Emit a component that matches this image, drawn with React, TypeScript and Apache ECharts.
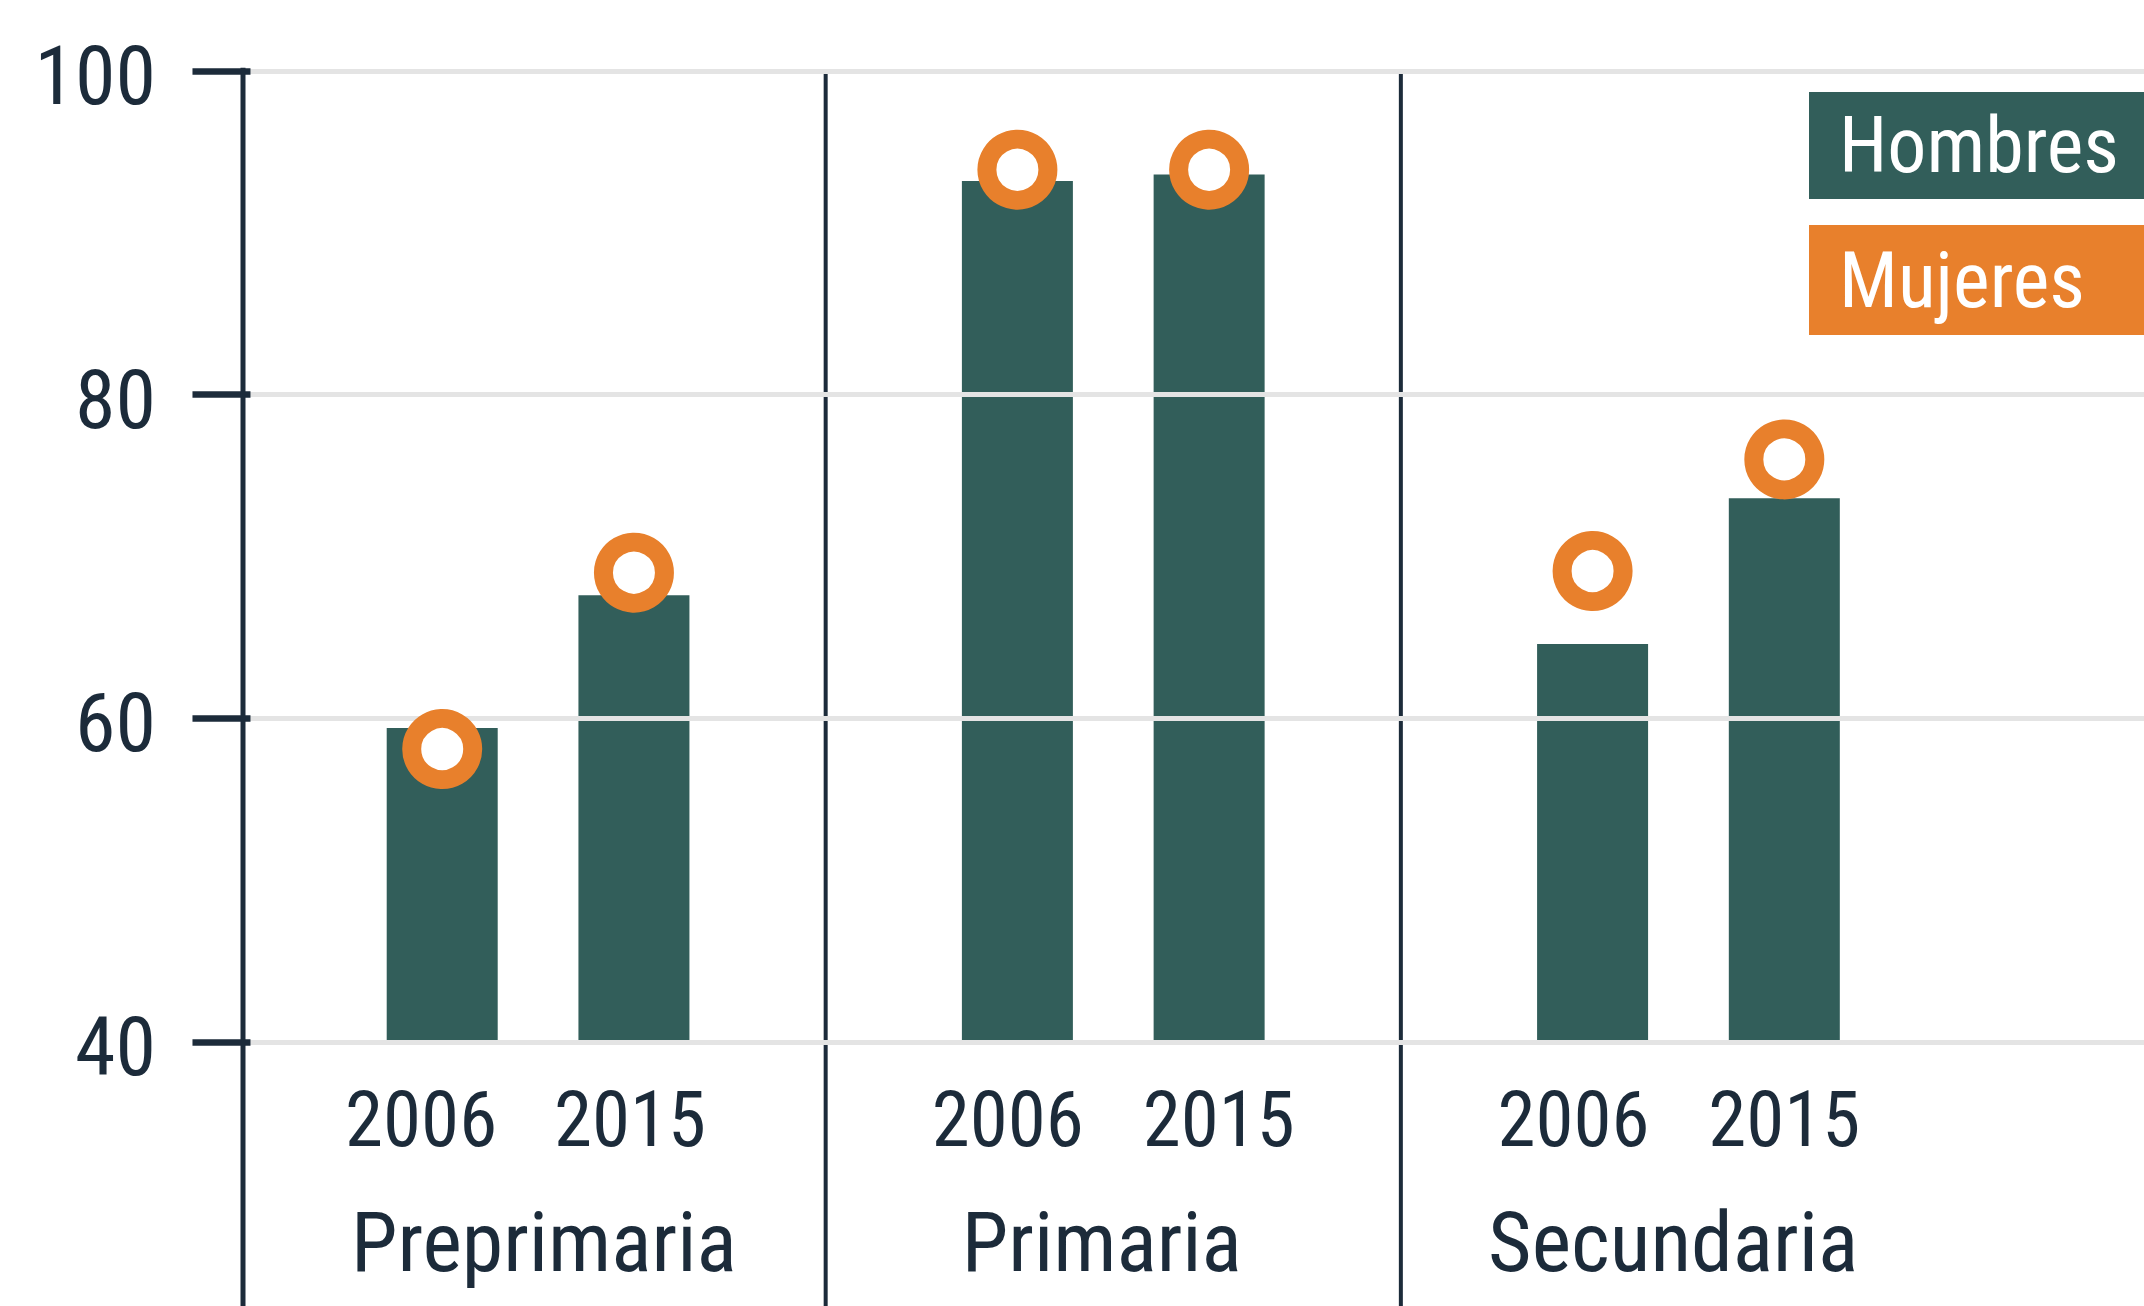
import React, { useEffect, useRef } from 'react';
import * as echarts from 'echarts';

const groups = ['Preprimaria', 'Primaria', 'Secundaria'];
const years = ['2006', '2015'];
const hombres = [59.4, 67.6, 93.2, 93.6, 64.6, 73.6];
const mujeres = [58.1, 69.0, 93.9, 93.9, 69.1, 76.0];
const seriesNames = ['Hombres', 'Mujeres'];

const TEAL = '#325e5a';
const ORANGE = '#e8802c';
const DARK = '#1c2b3a';
const GRID = '#e4e4e4';
const FONT = "'Roboto Condensed', 'Liberation Sans Narrow', 'Arial Narrow', 'DejaVu Sans Condensed', Roboto, sans-serif";

const X_MIN = -0.039;
const X_MAX = 9.876;
// small label nudges (in slot units) to follow the reference's label placement
const YEAR_LABEL_NUDGE = [-0.11, -0.02, -0.05, 0.05, -0.1, 0.0];
const GROUP_LABEL_NUDGE = [0.03, -0.06, -0.08];

// slot index of bar i: two bars per group, one empty slot (divider) between groups
const slotOf = (i: number) => Math.floor(i / years.length) * 3 + 1 + (i % years.length);
const barSlots = hombres.map((_, i) => slotOf(i));
const yearLabelSlots = barSlots.map((s, i) => s + YEAR_LABEL_NUDGE[i]);
const groupSlots = groups.map((_, g) => g * 3 + 1.5 + GROUP_LABEL_NUDGE[g]);
const dividerSlots = groups.slice(1).map((_, g) => (g + 1) * 3);

export default function App() {
  const ref = useRef<HTMLDivElement>(null);
  useEffect(() => {
    if (!ref.current) return;
    const chart = echarts.init(ref.current, null, { renderer: 'svg' });
    const option: any = {
      animation: false,
      backgroundColor: '#ffffff',
      textStyle: { fontFamily: FONT },
      grid: { left: 243, right: 0, top: 71, bottom: 264, containLabel: false },
      legend: {
        orient: 'vertical',
        left: 1803,
        top: 92,
        padding: 0,
        itemGap: 26,
        itemWidth: 0,
        itemHeight: 0,
        selectedMode: false,
        data: [
          {
            name: seriesNames[0],
            icon: 'rect',
            itemStyle: { opacity: 0 },
            textStyle: {
              color: '#ffffff', fontSize: 78, lineHeight: 80, fontFamily: FONT,
              backgroundColor: TEAL, padding: [14, 0, 13, 30], width: 306,
            },
          },
          {
            name: seriesNames[1],
            icon: 'rect',
            itemStyle: { opacity: 0 },
            textStyle: {
              color: '#ffffff', fontSize: 78, lineHeight: 80, fontFamily: FONT,
              backgroundColor: ORANGE, padding: [15, 0, 15, 30], width: 306,
            },
          },
        ],
      },
      xAxis: [
        {
          type: 'value', min: X_MIN, max: X_MAX, position: 'bottom',
          axisLine: { show: false }, axisTick: { show: false }, splitLine: { show: false },
          axisLabel: {
            customValues: yearLabelSlots,
            formatter: (v: number) => years[yearLabelSlots.indexOf(v) % years.length],
            fontSize: 77, color: DARK, margin: 78, verticalAlign: 'middle', fontFamily: FONT,
          },
        },
        {
          type: 'value', min: X_MIN, max: X_MAX, position: 'bottom',
          axisLine: { show: false }, axisTick: { show: false }, splitLine: { show: false },
          axisLabel: {
            customValues: groupSlots,
            formatter: (v: number) => groups[groupSlots.indexOf(v)],
            fontSize: 84, color: DARK, margin: 200, verticalAlign: 'middle', fontFamily: FONT,
          },
        },
      ],
      yAxis: {
        type: 'value', min: 40, max: 100, interval: 20, z: 1,
        axisLine: { show: false },
        axisTick: { show: true, length: 58, lineStyle: { color: DARK, width: 6.5 } },
        axisLabel: {
          fontSize: 82, color: DARK, margin: 87, fontFamily: FONT,
          verticalAlign: 'top', lineHeight: 10,
        },
        splitLine: { show: true, lineStyle: { color: GRID, width: 5 } },
      },
      series: [
        {
          name: 'dividers',
          type: 'custom',
          z: 0,
          clip: false,
          silent: true,
          data: dividerSlots.map((s) => [s, 100]),
          renderItem: (params: any, api: any) => {
            const p = api.coord([api.value(0), api.value(1)]);
            return {
              type: 'line',
              shape: { x1: p[0], y1: p[1], x2: p[0], y2: api.getHeight() },
              style: { stroke: DARK, lineWidth: 4 },
            };
          },
        },
        {
          name: seriesNames[0],
          type: 'bar',
          z: 0,
          barWidth: 111,
          itemStyle: { color: TEAL },
          data: hombres.map((v, i) => [barSlots[i], v]),
        },
        {
          name: seriesNames[1],
          type: 'scatter',
          z: 3,
          symbol: 'circle',
          symbolSize: 61,
          itemStyle: { color: '#ffffff', borderColor: ORANGE, borderWidth: 19, opacity: 1 },
          data: mujeres.map((v, i) => [barSlots[i], v]),
        },
        {
          name: 'yAxisLine',
          type: 'custom',
          z: 4,
          clip: false,
          silent: true,
          data: [[X_MIN, 100]],
          renderItem: (params: any, api: any) => {
            const p = api.coord([api.value(0), api.value(1)]);
            return {
              type: 'line',
              shape: { x1: p[0], y1: p[1] - 3.25, x2: p[0], y2: api.getHeight() },
              style: { stroke: DARK, lineWidth: 5 },
            };
          },
        },
      ],
    };
    chart.setOption(option);
    return () => chart.dispose();
  }, []);
  return (
    <div
      ref={ref}
      style={{ position: 'fixed', left: 0, top: 0, width: 2144, height: 1306, background: '#fff' }}
    />
  );
}
